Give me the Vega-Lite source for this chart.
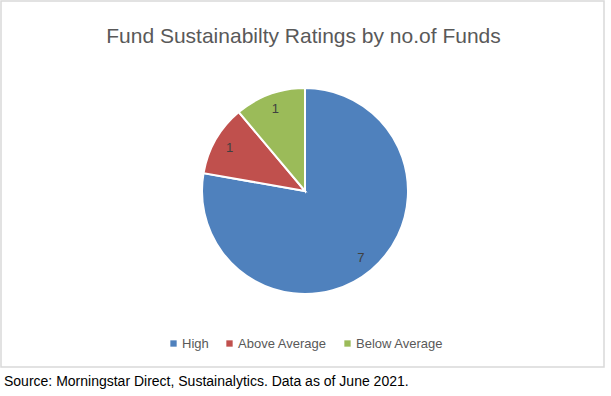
{
  "$schema": "https://vega.github.io/schema/vega-lite/v6.json",
  "width": 603,
  "height": 366,
  "padding": {"left": 1, "top": 1, "right": 7, "bottom": 29},
  "autosize": {"type": "none"},
  "background": "white",
  "view": {"stroke": "#d9d9d9", "strokeWidth": 1.5, "fill": "white"},
  "layer": [
    {
      "data": {
        "values": [
          {"rating": "High", "funds": 7, "rank": 1},
          {"rating": "Above Average", "funds": 1, "rank": 2},
          {"rating": "Below Average", "funds": 1, "rank": 3}
        ]
      },
      "encoding": {
        "theta": {"field": "funds", "type": "quantitative", "stack": true},
        "order": {"field": "rank", "type": "quantitative"}
      },
      "layer": [
        {
          "mark": {"type": "arc", "outerRadius": 103, "stroke": "white", "strokeWidth": 2, "xOffset": 2.5, "yOffset": 7},
          "encoding": {
            "color": {
              "field": "rating",
              "type": "nominal",
              "sort": ["High", "Above Average", "Below Average"],
              "scale": {"domain": ["High", "Above Average", "Below Average"], "range": ["#4F81BD", "#C0504D", "#9BBB59"]},
              "legend": {
                "title": null,
                "orient": "none",
                "direction": "horizontal",
                "legendX": 166,
                "legendY": 336,
                "gridAlign": "none",
                "symbolType": "square",
                "symbolSize": 40,
                "symbolStrokeWidth": 0,
                "labelFont": "Liberation Sans",
                "labelFontSize": 13,
                "labelColor": "#595959",
                "columnPadding": 14,
                "labelOffset": 2
              }
            }
          }
        },
        {
          "mark": {"type": "text", "radius": 87, "xOffset": 2.5, "yOffset": 7, "font": "Liberation Sans", "fontSize": 13, "color": "#404040"},
          "encoding": {
            "text": {"field": "funds", "type": "quantitative"}
          }
        }
      ]
    },
    {
      "data": {"values": [{"heading": "Fund Sustainabilty Ratings by no.of Funds"}]},
      "mark": {"type": "text", "align": "center", "baseline": "alphabetic", "x": {"expr": "width/2 + 1"}, "y": 42, "font": "Liberation Sans", "fontSize": 21, "color": "#595959"},
      "encoding": {
        "text": {"field": "heading", "type": "nominal"}
      }
    },
    {
      "data": {"values": [{"note": "Source: Morningstar Direct, Sustainalytics. Data as of June 2021."}]},
      "mark": {"type": "text", "align": "left", "baseline": "alphabetic", "x": 3, "y": {"expr": "height + 19"}, "font": "Liberation Sans", "fontSize": 14, "color": "#000000"},
      "encoding": {
        "text": {"field": "note", "type": "nominal"}
      }
    }
  ]
}
